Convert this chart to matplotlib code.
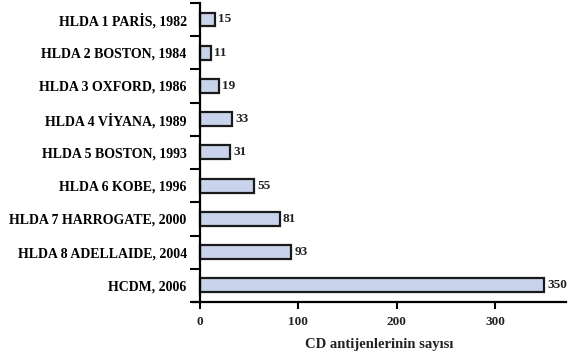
import matplotlib.pyplot as plt

# veriler
etiketler = ["HLDA 1 PARİS, 1982", "HLDA 2 BOSTON, 1984", "HLDA 3 OXFORD, 1986",
             "HLDA 4 VİYANA, 1989", "HLDA 5 BOSTON, 1993", "HLDA 6 KOBE, 1996",
             "HLDA 7 HARROGATE, 2000", "HLDA 8 ADELLAIDE, 2004", "HCDM, 2006"]
sayilar = [15, 11, 19, 33, 31, 55, 81, 93, 350]
x_ticks = [0, 100, 200, 300]

plt.rcParams['font.family'] = ['Liberation Serif', 'DejaVu Serif']
plt.rcParams['font.weight'] = 'bold'

fig = plt.figure(figsize=(5.71, 3.6), dpi=100)
ax = fig.add_axes([0.338, 0.161, 0.653, 0.831])

pos = list(range(len(etiketler)))
ax.barh(pos, sayilar, height=0.42, color='#c9d4ec', edgecolor='#1a1a1a', linewidth=1.6)

for p, v in zip(pos, sayilar):
    ax.text(v + 3, p, str(v), va='center', ha='left', fontsize=9.5, fontweight='bold', color='#222222')

ax.set_ylim(len(etiketler) - 0.5, -0.5)
ax.set_xlim(-7, 372)

# y ekseni: kategori arasi tikler
ax.set_yticks([p - 0.5 for p in pos] + [len(pos) - 0.5])
ax.set_yticklabels([])
ax.set_yticks(pos, minor=True)
ax.set_yticklabels(etiketler, minor=True, fontsize=8.6, fontweight='bold', color='#222222')
ax.tick_params(axis='y', which='major', length=7, width=1.5, direction='out')
ax.tick_params(axis='y', which='minor', length=0, pad=9.5)

ax.set_xticks(x_ticks)
ax.set_xticklabels([str(t) for t in x_ticks], fontsize=9.5, fontweight='bold', color='#222222')
ax.tick_params(axis='x', length=5, width=1.5, direction='out', pad=5)
ax.set_xlabel("CD antijenlerinin sayısı", fontsize=10.5, fontweight='bold', color='#222222', labelpad=7)

ax.spines['top'].set_visible(False)
ax.spines['right'].set_visible(False)
ax.spines['left'].set_position(('data', 0))
ax.spines['left'].set_linewidth(1.6)
ax.spines['bottom'].set_linewidth(1.6)

fig.savefig("out.png", dpi=100)
